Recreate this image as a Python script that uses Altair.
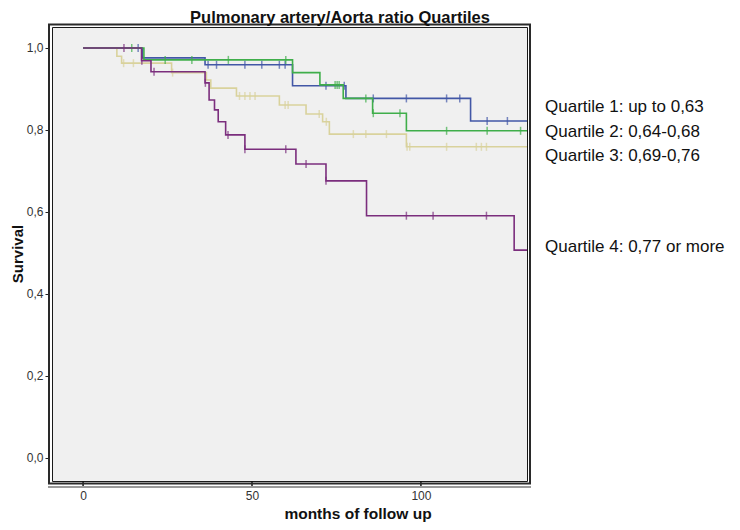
import altair as alt
import pandas as pd

# ---------------- data ----------------
groups = ["Quartile 1", "Quartile 2", "Quartile 3", "Quartile 4"]
colors = ["#4257a6", "#3fae4a", "#d9d29c", "#7b2e7d"]

# step times (months) and survival after each step
q1_time = [0, 17.5, 36.1, 62.0, 77.8, 114.7, 132.5]
q1_surv = [1.0, 0.976, 0.959, 0.908, 0.877, 0.822, 0.822]
q1_cens = [16.3, 37.0, 39.5, 47.9, 52.9, 58.1, 59.8, 71.9, 77.3, 85.9, 95.7, 107.6, 111.5, 119.6, 125.6]

q2_time = [0, 18.0, 62.0, 70.1, 77.0, 85.7, 95.7, 132.5]
q2_surv = [1.0, 0.971, 0.940, 0.910, 0.877, 0.841, 0.798, 0.798]
q2_cens = [14.4, 24.3, 32.2, 43.0, 60.0, 74.6, 75.2, 75.8, 83.7, 85.9, 93.8, 107.6, 119.6, 129.5]

q3_time = [0, 10.0, 11.4, 26.2, 36.5, 37.8, 45.4, 58.1, 66.0, 70.9, 72.9, 95.7, 132.5]
q3_surv = [1.0, 0.980, 0.963, 0.940, 0.922, 0.902, 0.883, 0.861, 0.839, 0.820, 0.790, 0.759, 0.759]
q3_cens = [12.0, 14.9, 26.5, 46.3, 47.9, 49.4, 50.9, 59.8, 60.7, 69.9, 72.0, 80.0, 83.7, 89.8,
           95.9, 96.7, 107.6, 116.4, 117.9, 119.4]

q4_time = [0, 17.3, 20.1, 36.1, 37.3, 38.9, 40.0, 42.2, 47.9, 63.0, 71.9, 83.9, 127.6, 132.5]
q4_surv = [1.0, 0.969, 0.942, 0.915, 0.873, 0.849, 0.820, 0.788, 0.753, 0.717, 0.676, 0.591, 0.507, 0.507]
q4_cens = [12.1, 17.4, 21.0, 36.2, 42.9, 47.9, 60.0, 66.0, 71.9, 95.7, 103.6, 119.4]

x_ticks = [0, 50, 100]
y_ticks = [0.0, 0.2, 0.4, 0.6, 0.8, 1.0]

legend_labels = ["Quartile 1: up to 0,63", "Quartile 2: 0,64-0,68",
                 "Quartile 3: 0,69-0,76", "Quartile 4: 0,77 or more"]
title_text = "Pulmonary artery/Aorta ratio Quartiles"
x_title = "months of follow up"
y_title = "Survival"

# ---------------- build tables ----------------
series = {
    "Quartile 1": (q1_time, q1_surv, q1_cens),
    "Quartile 2": (q2_time, q2_surv, q2_cens),
    "Quartile 3": (q3_time, q3_surv, q3_cens),
    "Quartile 4": (q4_time, q4_surv, q4_cens),
}


def surv_at(times, survs, t):
    val = survs[0]
    for ti, si in zip(times, survs):
        if t >= ti:
            val = si
    return val


W, H = 475, 454
xscale = alt.Scale(domain=[-9.2, 131.4], nice=False, zero=False)
yscale = alt.Scale(domain=[-0.0561, 1.0512], nice=False, zero=False)
cscale = alt.Scale(domain=groups, range=colors)

x_axis = alt.Axis(values=x_ticks, title=None, domain=False, ticks=False, grid=False,
                  labelPadding=9, labelFontSize=12, labelColor="#333")
y_axis = alt.Axis(values=y_ticks, title=None, domain=False, grid=False, offset=3,
                  tickSize=4, tickColor="#222", tickWidth=1, labelPadding=2,
                  labelFontSize=12, labelColor="#333",
                  labelExpr="replace(format(datum.value, '.1f'), '.', ',')")


def X(field="time:Q"):
    return alt.X(field, scale=xscale, axis=x_axis)


def Y(field="surv:Q"):
    return alt.Y(field, scale=yscale, axis=y_axis)


layers = []
axis_df = pd.DataFrame({"time": [0], "surv": [1.0]})

draw_order = ["Quartile 3", "Quartile 1", "Quartile 2", "Quartile 4"]
for g in draw_order:
    times, survs, cens = series[g]
    ldf = pd.DataFrame({"group": g, "time": times, "surv": survs})
    cdf = pd.DataFrame({"group": g, "time": cens,
                        "surv": [surv_at(times, survs, t) for t in cens]})
    layers.append(
        alt.Chart(ldf).mark_line(interpolate="step-after", strokeWidth=1.6, clip=True).encode(
            x=X(), y=Y(),
            color=alt.Color("group:N", scale=cscale, legend=None),
        )
    )
    layers.append(
        alt.Chart(cdf).mark_tick(orient="vertical", size=8, thickness=1.5).encode(
            x=X(), y=Y(),
            color=alt.Color("group:N", scale=cscale, legend=None),
        )
    )

# x tick marks crossing the frame bottom
xt_df = pd.DataFrame({"time": x_ticks})
layers.append(
    alt.Chart(xt_df).mark_rule(color="#111", strokeWidth=1.5).encode(
        x=X(),
        y=alt.value(H),
        y2=alt.value(H + 6),
    )
)

# outer frame and x axis line
layers.append(
    alt.Chart(axis_df).mark_rect(filled=False, stroke="#2a2a2a", strokeWidth=2).encode(
        x=alt.value(-3), x2=alt.value(W + 3), y=alt.value(-2.5), y2=alt.value(H + 2.5)
    )
)
layers.append(
    alt.Chart(axis_df).mark_rule(color="#9a9a9a", strokeWidth=2).encode(
        x=alt.value(-4), x2=alt.value(W + 4), y=alt.value(H + 6)
    )
)

# title / axis titles
layers.append(
    alt.Chart(pd.DataFrame({"t": [title_text]})).mark_text(
        fontSize=16.5, fontWeight="bold", color="#111", align="center", baseline="alphabetic"
    ).encode(x=alt.value(288), y=alt.value(-4), text="t:N")
)
layers.append(
    alt.Chart(pd.DataFrame({"t": [x_title]})).mark_text(
        fontSize=15.5, fontWeight="bold", color="#111", align="center", baseline="alphabetic"
    ).encode(x=alt.value(306), y=alt.value(492), text="t:N")
)
layers.append(
    alt.Chart(pd.DataFrame({"t": [y_title]})).mark_text(
        fontSize=15, fontWeight="bold", color="#111", align="center", baseline="middle", angle=270
    ).encode(x=alt.value(-34), y=alt.value(H / 2), text="t:N")
)

# legend-like labels on the right
leg_df = pd.DataFrame({"label": legend_labels, "py": [80, 105, 129, 220]})
layers.append(
    alt.Chart(leg_df).mark_text(
        fontSize=17, color="#111", align="left", baseline="middle"
    ).encode(x=alt.value(W + 18), y=alt.Y("py:Q", scale=None), text="label:N")
)

chart = alt.layer(*layers).properties(
    width=W,
    height=H,
    padding={"left": 44, "top": 19, "right": 205, "bottom": 41},
    autosize=alt.AutoSizeParams(type="none"),
    background="white",
).configure(
    font="Liberation Sans",
    view=alt.ViewConfig(fill="#f0f0f0", stroke="#1a1a1a", strokeWidth=1),
)

chart.save("out.html", embed_options={"renderer": "svg", "actions": False})
